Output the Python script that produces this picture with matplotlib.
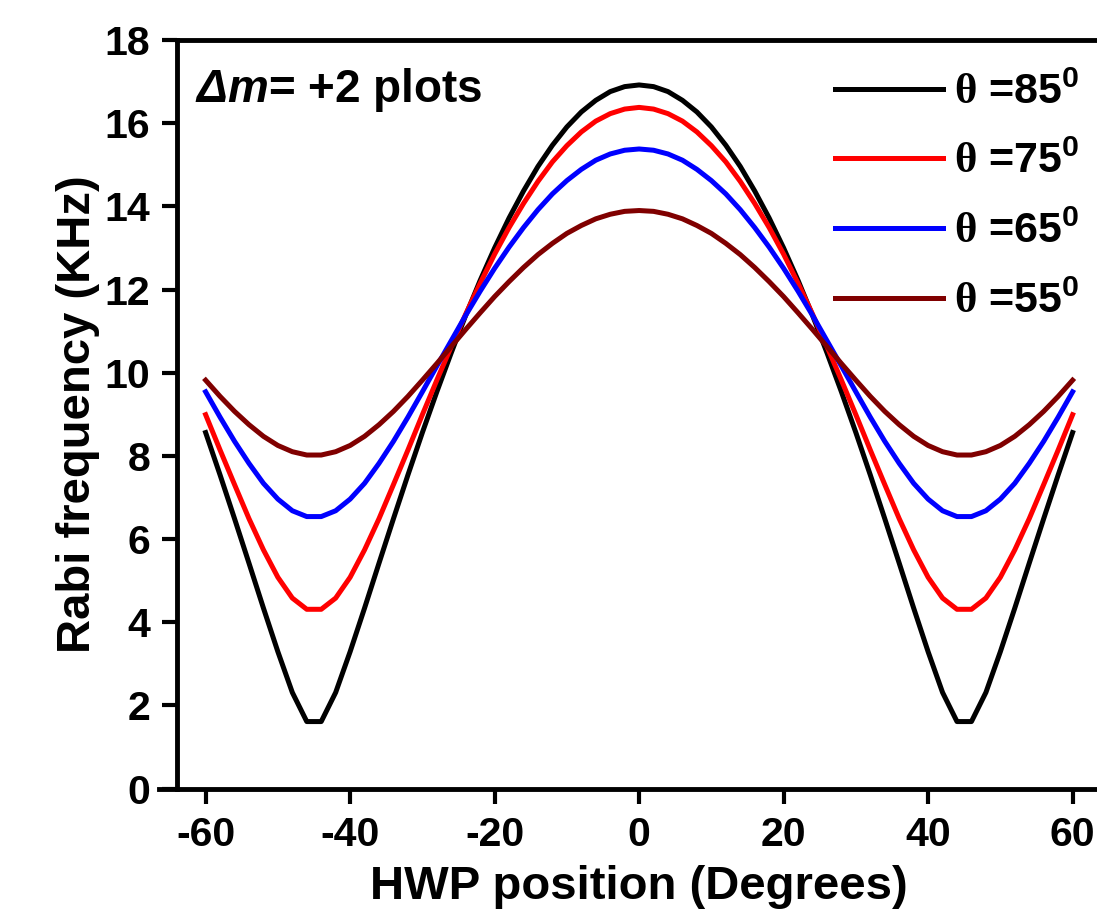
import matplotlib
matplotlib.use("Agg")
import matplotlib.pyplot as plt

# ---- data ----
hwp_deg = list(range(-60, 61, 2))

theta_labels = ["85", "75", "65", "55"]

rabi_85 = [8.56, 7.54, 6.49, 5.42, 4.34, 3.29, 2.31, 1.61, 1.61, 2.31, 3.29, 4.34, 5.42, 6.49, 7.54,
           8.56, 9.54, 10.48, 11.38, 12.22, 13.00, 13.72, 14.37, 14.96, 15.47, 15.91, 16.27, 16.55, 16.76, 16.88,
           16.92,
           16.88, 16.76, 16.55, 16.27, 15.91, 15.47, 14.96, 14.37, 13.72, 13.00, 12.22, 11.38, 10.48, 9.54, 8.56,
           7.54, 6.49, 5.42, 4.34, 3.29, 2.31, 1.61, 1.61, 2.31, 3.29, 4.34, 5.42, 6.49, 7.54, 8.56]

rabi_75 = [8.99, 8.14, 7.31, 6.49, 5.74, 5.08, 4.58, 4.31, 4.31, 4.58, 5.08, 5.74, 6.49, 7.31, 8.14,
           8.99, 9.82, 10.63, 11.41, 12.15, 12.85, 13.49, 14.07, 14.60, 15.07, 15.46, 15.79, 16.05, 16.23, 16.34,
           16.38,
           16.34, 16.23, 16.05, 15.79, 15.46, 15.07, 14.60, 14.07, 13.49, 12.85, 12.15, 11.41, 10.63, 9.82, 8.99,
           8.14, 7.31, 6.49, 5.74, 5.08, 4.58, 4.31, 4.31, 4.58, 5.08, 5.74, 6.49, 7.31, 8.14, 8.99]

rabi_65 = [9.54, 8.93, 8.35, 7.82, 7.34, 6.96, 6.68, 6.54, 6.54, 6.68, 6.96, 7.34, 7.82, 8.35, 8.93,
           9.54, 10.16, 10.77, 11.38, 11.96, 12.51, 13.02, 13.49, 13.92, 14.30, 14.62, 14.89, 15.11, 15.26, 15.35,
           15.38,
           15.35, 15.26, 15.11, 14.89, 14.62, 14.30, 13.92, 13.49, 13.02, 12.51, 11.96, 11.38, 10.77, 10.16, 9.54,
           8.93, 8.35, 7.82, 7.34, 6.96, 6.68, 6.54, 6.54, 6.68, 6.96, 7.34, 7.82, 8.35, 8.93, 9.54]

rabi_55 = [9.82, 9.43, 9.07, 8.75, 8.47, 8.25, 8.10, 8.02, 8.02, 8.10, 8.25, 8.47, 8.75, 9.07, 9.43,
           9.82, 10.22, 10.63, 11.04, 11.44, 11.83, 12.19, 12.53, 12.84, 13.11, 13.35, 13.54, 13.70, 13.81, 13.88,
           13.90,
           13.88, 13.81, 13.70, 13.54, 13.35, 13.11, 12.84, 12.53, 12.19, 11.83, 11.44, 11.04, 10.63, 10.22, 9.82,
           9.43, 9.07, 8.75, 8.47, 8.25, 8.10, 8.02, 8.02, 8.10, 8.25, 8.47, 8.75, 9.07, 9.43, 9.82]

x_ticks = [-60, -40, -20, 0, 20, 40, 60]
y_ticks = [0, 2, 4, 6, 8, 10, 12, 14, 16, 18]

# ---- style ----
plt.rcParams['font.family'] = ['Liberation Sans', 'DejaVu Sans']
plt.rcParams['font.weight'] = 'bold'
plt.rcParams['mathtext.fontset'] = 'custom'
plt.rcParams['mathtext.rm'] = 'Liberation Serif'
plt.rcParams['mathtext.bf'] = 'Liberation Sans:bold'
plt.rcParams['mathtext.sf'] = 'Liberation Sans:italic:bold'
plt.rcParams['mathtext.it'] = 'Liberation Sans:italic:bold'

colors = ['#000000', '#ff0000', '#0000ff', '#800000']
series = [rabi_85, rabi_75, rabi_65, rabi_55]

fig = plt.figure(figsize=(10.97, 9.10), dpi=100)
ax = fig.add_axes([0.1611, 0.1335, 0.843, 0.8225])

for vals, c, lab in zip(series, colors, theta_labels):
    ax.plot(hwp_deg, vals, color=c, lw=3.6,
            label=r'$\mathrm{\theta}$ =' + lab + r'$^{\mathbf{0}}$')

ax.set_xlim(-64, 64)
ax.set_ylim(0, 18)
ax.set_xticks(x_ticks)
ax.set_yticks(y_ticks)
ax.set_xticklabels([str(v) for v in x_ticks])
ax.set_yticklabels([str(v) for v in y_ticks])

for s in ['left', 'bottom', 'top']:
    ax.spines[s].set_linewidth(3.5)
ax.spines['right'].set_visible(False)
ax.spines['bottom'].set_bounds(-66.4, 64)

ax.tick_params(axis='both', which='major', direction='out', length=11, width=3.0,
               labelsize=29.5, top=False, right=False)
ax.tick_params(axis='x', pad=9)
ax.tick_params(axis='y', pad=8)
for lbl in ax.get_xticklabels() + ax.get_yticklabels():
    lbl.set_fontweight('bold')

ax.set_xlabel('HWP position (Degrees)', fontsize=34, fontweight='bold', labelpad=8)
ax.set_ylabel('Rabi frequency (KHz)', fontsize=34, fontweight='bold', labelpad=3)

ax.text(0.0198, 0.9176, r'$\mathsf{\Delta m}$= +2 plots', transform=ax.transAxes,
        fontsize=33, fontweight='bold', ha='left', va='baseline')

leg = ax.legend(loc='upper left', bbox_to_anchor=(0.712, 0.957), frameon=False,
                prop={'family': 'Liberation Sans', 'weight': 'bold', 'size': 31},
                handlelength=2.5, handletextpad=0.25, labelspacing=0.68,
                borderpad=0, borderaxespad=0)

fig.savefig('out.png', dpi=100)
